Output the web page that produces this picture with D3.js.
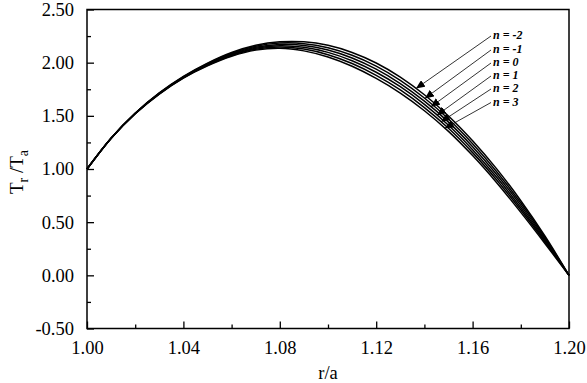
<!DOCTYPE html>
<html lang="en">
<head>
    <meta charset="UTF-8">
    <title>Tr/Ta vs r/a</title>
    <style>
        body { margin: 0; background: #fff; }
        text { font-family: "Liberation Serif", "Times New Roman", serif; fill: #000; }
    </style>
</head>
<body>
<svg id="chart" width="587" height="383"></svg>

<script src="https://cdn.jsdelivr.net/npm/d3@7"></script>
<script>
    // r/a sample positions
    let rValues = [1.00, 1.01, 1.02, 1.03, 1.04, 1.05, 1.06, 1.07, 1.08, 1.09, 1.10,
                   1.11, 1.12, 1.13, 1.14, 1.15, 1.16, 1.17, 1.18, 1.19, 1.20]

    // Tr/Ta for each n
    let nm2 = [1.000, 1.290, 1.525, 1.715, 1.870, 1.995, 2.095, 2.163, 2.196, 2.196, 2.163,
               2.096, 1.997, 1.864, 1.698, 1.499, 1.266, 1.001, 0.702, 0.370, 0.000]
    let nm1 = [1.000, 1.290, 1.524, 1.713, 1.867, 1.990, 2.088, 2.154, 2.184, 2.179, 2.141,
               2.070, 1.968, 1.834, 1.668, 1.470, 1.238, 0.975, 0.680, 0.356, 0.000]
    let n0  = [1.000, 1.290, 1.523, 1.711, 1.864, 1.985, 2.081, 2.145, 2.172, 2.162, 2.119,
               2.044, 1.939, 1.804, 1.638, 1.441, 1.210, 0.949, 0.658, 0.342, 0.000]
    let n1  = [1.000, 1.290, 1.522, 1.709, 1.861, 1.980, 2.074, 2.136, 2.160, 2.145, 2.097,
               2.018, 1.910, 1.774, 1.608, 1.412, 1.182, 0.923, 0.636, 0.328, 0.000]
    let n2  = [1.000, 1.290, 1.521, 1.707, 1.858, 1.975, 2.067, 2.127, 2.148, 2.128, 2.075,
               1.992, 1.881, 1.744, 1.578, 1.383, 1.154, 0.897, 0.614, 0.314, 0.000]
    let n3  = [1.000, 1.290, 1.520, 1.705, 1.855, 1.970, 2.060, 2.118, 2.136, 2.111, 2.053,
               1.966, 1.852, 1.714, 1.548, 1.354, 1.126, 0.871, 0.592, 0.300, 0.000]

    let seriesNames = ["n = -2", "n = -1", "n = 0", "n = 1", "n = 2", "n = 3"]
    let seriesValues = [nm2, nm1, n0, n1, n2, n3]
    // where each arrow touches its curve (r/a)
    let arrowAt = [1.1365, 1.1402, 1.1427, 1.1452, 1.1469, 1.1485]

    let xTicks = [1.00, 1.04, 1.08, 1.12, 1.16, 1.20]
    let yTicks = [-0.5, 0, 0.5, 1.0, 1.5, 2.0, 2.5]

    let svg = d3.select("#chart")
    let plotLeft = 87, plotRight = 569, plotTop = 9.5, plotBottom = 328.5

    let x = d3.scaleLinear().domain([1.0, 1.2]).range([plotLeft, plotRight])
    let y = d3.scaleLinear().domain([-0.5, 2.5]).range([plotBottom, plotTop])

    // plain hyphen for negatives, like the original
    let fmt = d => d.toFixed(2)

    // axes, ticks inward
    let xAxis = d3.axisBottom(x).tickValues(xTicks).tickFormat(fmt)
        .tickSizeInner(-7).tickSizeOuter(0).tickPadding(12)
    let xMinor = d3.axisBottom(x).tickValues(d3.range(1.02, 1.2, 0.04))
        .tickSizeInner(-4).tickSizeOuter(0).tickFormat("")
    let yAxis = d3.axisLeft(y).tickValues(yTicks).tickFormat(fmt)
        .tickSizeInner(-7).tickSizeOuter(0).tickPadding(13)
    let yMinor = d3.axisLeft(y).tickValues(d3.range(-0.25, 2.5, 0.5))
        .tickSizeInner(-4).tickSizeOuter(0).tickFormat("")

    function styleAxis(g) {
        g.select(".domain").remove()
        g.selectAll("line").attr("stroke", "#000").attr("stroke-width", 1.3)
        g.selectAll("text").attr("font-family", "Liberation Serif, Times New Roman, serif")
            .attr("font-size", 18.5).attr("fill", "#000")
    }

    svg.append("g").attr("transform", `translate(0,${plotBottom})`).call(xAxis).call(styleAxis)
    svg.append("g").attr("transform", `translate(0,${plotBottom})`).call(xMinor).call(styleAxis)
    svg.append("g").attr("transform", `translate(${plotLeft},0)`).call(yAxis).call(styleAxis)
    svg.append("g").attr("transform", `translate(${plotLeft},0)`).call(yMinor).call(styleAxis)

    // frame
    svg.append("rect")
        .attr("x", plotLeft).attr("y", plotTop)
        .attr("width", plotRight - plotLeft).attr("height", plotBottom - plotTop)
        .attr("fill", "none").attr("stroke", "#000").attr("stroke-width", 1.5)

    // curves
    let line = d3.line()
        .x((d, i) => x(rValues[i]))
        .y(d => y(d))
        .curve(d3.curveCatmullRom)

    svg.append("g").selectAll("path")
        .data(seriesValues)
        .enter()
        .append("path")
        .attr("d", d => line(d))
        .attr("fill", "none")
        .attr("stroke", "#000")
        .attr("stroke-width", 1.5)

    // arrow heads
    svg.append("defs").append("marker")
        .attr("id", "arrow")
        .attr("markerUnits", "userSpaceOnUse")
        .attr("markerWidth", 10).attr("markerHeight", 8)
        .attr("refX", 9).attr("refY", 4)
        .attr("orient", "auto")
        .append("path")
        .attr("d", "M0,0 L9,4 L0,8 Z")
        .attr("fill", "#000")

    let labelY = [35, 49, 62, 75, 88, 101.5]
    let labelX = 493

    seriesNames.forEach((name, i) => {
        let interp = d3.scaleLinear().domain(rValues).range(seriesValues[i])
        let tx = x(arrowAt[i]), ty = y(interp(arrowAt[i]))
        svg.append("line")
            .attr("x1", labelX - 2).attr("y1", labelY[i] + 1)
            .attr("x2", tx).attr("y2", ty)
            .attr("stroke", "#000").attr("stroke-width", 0.8)
            .attr("marker-end", "url(#arrow)")
        svg.append("text")
            .attr("x", labelX).attr("y", labelY[i] + 4)
            .attr("font-size", 12)
            .attr("font-weight", "bold")
            .attr("font-style", "italic")
            .text(name)
    })

    // axis titles
    svg.append("text")
        .attr("x", (plotLeft + plotRight) / 2).attr("y", 379)
        .attr("text-anchor", "middle")
        .attr("font-size", 18.5)
        .text("r/a")

    let yt = svg.append("text")
        .attr("transform", "translate(23,172) rotate(-90)")
        .attr("text-anchor", "middle")
        .attr("font-size", 19)
    yt.append("tspan").text("T")
    yt.append("tspan").attr("font-size", 14).attr("dy", 5).text("r")
    yt.append("tspan").attr("dy", -5).text(" /T")
    yt.append("tspan").attr("font-size", 14).attr("dy", 5).text("a")
</script>
</body>
</html>
